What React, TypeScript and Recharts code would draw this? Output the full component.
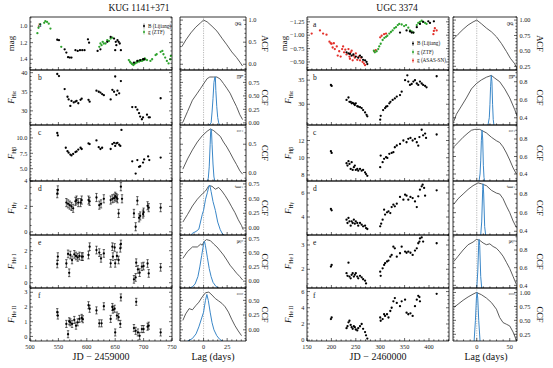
import React from 'react';
import { ComposedChart, Scatter, Line, XAxis, YAxis, ReferenceLine, ErrorBar } from 'recharts';

const FONT = '"Liberation Serif", "DejaVu Serif", serif';
type P = [number, number];

// ---------------- KUG 1141+371 (JD - 2459000) ----------------
const kugLijiangB: P[] = [[548,1.165],[551,1.17],[561,1.28],[564,1.32],[567,1.375],[570,1.38],[573,1.38],[580,1.29],[584,1.30],[588,1.29],[592,1.29],[596,1.29],[602,1.16],[604,1.20],[619,1.30],[624,1.28],[636,1.19],[642,1.13],[648,1.15],[650,1.29],[651,1.19],[652,1.23],[654,1.17],[656,1.19],[658,1.21],[660,1.29],[683,1.44],[689,1.42],[694,1.41],[699,1.40],[701,1.40]];
const kugZtfG: P[] = [[513,1.085],[515,1.02],[518,0.98],[525,0.96],[527,0.94],[530,0.95],[533,0.97],[536,1.03],[555,1.25],[622,1.25],[624,1.21],[626,1.23],[628,1.19],[630,1.21],[633,1.21],[636,1.17],[639,1.18],[642,1.15],[645,1.14],[674,1.41],[676,1.43],[677,1.44],[679,1.45],[680,1.46],[682,1.47],[683,1.46],[685,1.45],[686,1.44],[688,1.44],[689,1.43],[691,1.42],[692,1.43],[694,1.42],[696,1.41],[697,1.42],[699,1.41],[700,1.41],[702,1.39],[703,1.40],[706,1.41],[712,1.42],[715,1.40],[721,1.35],[723,1.34],[730,1.31],[733,1.30],[735,1.34],[738,1.38],[741,1.42],[744,1.45],[747,1.40],[748,1.36]];
const kugHalpha: P[] = [[548,39.65],[551,39.1],[561,35.7],[566,33.7],[568,33.0],[571,31.3],[573,32.6],[577,32.2],[580,32.4],[582,32.6],[585,32.0],[589,32.9],[591,33.2],[603,32.9],[605,32.4],[617,35.3],[621,35.0],[624,34.8],[627,34.4],[630,34.1],[642,33.0],[645,35.5],[648,35.0],[650,39.0],[652,34.2],[654,35.3],[657,34.6],[660,37.8],[680,31.0],[686,31.0],[689,30.3],[692,29.4],[694,28.5],[697,27.8],[699,28.3],[706,29.0],[709,28.3],[711,28.3],[730,33.3]];
const kugHbeta: P[] = [[548,10.8],[549,10.4],[563,8.4],[566,7.85],[568,7.6],[571,7.3],[573,7.15],[576,7.4],[580,7.7],[582,7.8],[585,8.1],[589,8.4],[591,8.2],[603,9.1],[605,9.0],[617,9.6],[621,8.5],[624,8.2],[627,8.4],[642,8.2],[645,9.0],[648,9.2],[650,8.7],[652,9.1],[654,9.2],[657,8.9],[659,8.7],[661,11.3],[680,6.2],[686,4.2],[689,6.4],[692,5.3],[694,5.4],[699,6.0],[701,6.5],[708,7.0],[710,6.4],[730,6.8]];
const kugHgamma: P[] = [[548,3.0],[549,3.3],[564,2.3],[567,2.2],[570,2.1],[573,2.0],[576,1.85],[580,2.4],[582,2.5],[585,2.3],[589,2.3],[591,2.5],[603,2.5],[605,2.4],[617,2.7],[622,2.1],[625,2.2],[630,2.6],[642,2.5],[645,2.6],[648,2.65],[650,2.8],[652,2.7],[654,2.6],[656,1.45],[660,3.55],[662,2.6],[683,1.45],[686,0.4],[689,2.45],[692,1.1],[694,1.25],[699,1.4],[700,1.55],[707,2.05],[709,1.9],[730,1.9]];
const kugHeI: P[] = [[548,1.17],[549,1.63],[564,1.2],[567,1.8],[569,0.62],[571,1.73],[574,1.42],[578,1.77],[581,1.67],[584,1.58],[587,1.67],[591,1.63],[593,1.63],[603,1.73],[605,2.25],[617,2.04],[622,1.88],[625,1.52],[630,1.83],[642,1.21],[645,2.25],[646,1.63],[649,2.2],[650,1.21],[653,1.67],[656,1.42],[659,2.15],[660,2.42],[683,0.21],[686,0.33],[687,1.25],[690,0.83],[693,0.63],[697,1.0],[700,1.04],[707,1.2],[709,0.58],[730,0.96]];
const kugHeII: P[] = [[548,1.65],[549,1.42],[564,0.85],[567,0.15],[569,1.03],[571,0.96],[574,0.85],[578,1.12],[581,0.73],[584,0.96],[587,1.19],[591,1.26],[593,1.17],[603,2.12],[605,1.88],[617,1.77],[622,0.89],[626,0.89],[630,2.05],[642,1.19],[645,2.0],[646,1.82],[649,1.88],[650,0.27],[653,1.42],[656,1.31],[659,0.85],[660,2.65],[683,0.57],[686,0.38],[687,2.35],[690,0.27],[693,0.04],[697,0.5],[700,0.5],[707,0.66],[709,0.73],[730,0.27]];
const kugErrHgamma = 0.32;
const kugErrHeI = 0.24;
const kugErrHeII = 0.24;

// lag (days) vs ACF / CCF ; CCCD (blue) drawn from panel floor
const kugAcf: P[] = [[-23,0.40],[-18.8,0.55],[-13.5,0.71],[-8.3,0.84],[-3.1,0.94],[0,1.0],[3.8,0.96],[9,0.86],[14.2,0.75],[19.5,0.59],[24.7,0.44],[29.9,0.28],[35.1,0.15],[38.5,0.05],[41.3,-0.04]];
const kugCcfHa: P[] = [[-22,0.01],[-17,0.21],[-11.8,0.42],[-6.6,0.55],[-3.1,0.64],[0.3,0.73],[3.8,0.82],[6.6,0.85],[10.8,0.85],[14.2,0.85],[17.7,0.81],[21.1,0.73],[24.7,0.64],[28.1,0.55],[31.6,0.42],[35,0.30],[38.5,0.15],[41.4,0.06]];
const kugCccdHa: P[] = [[6,-0.04],[8,0.0],[9,0.2],[10,0.45],[11,0.75],[12,0.85],[12.5,0.85],[13,0.6],[14,0.3],[15,0.1],[16,0.0],[17,-0.04]];
const kugCcfHb: P[] = [[-22,0.06],[-17,0.24],[-11.8,0.40],[-6.6,0.54],[-1.4,0.65],[3.8,0.73],[7.3,0.77],[10.8,0.74],[14.2,0.69],[17.7,0.64],[21.1,0.54],[24.7,0.45],[28.1,0.35],[31.6,0.24],[35,0.14],[38.5,0.03],[41.4,-0.03]];
const kugCccdHb: P[] = [[4,-0.15],[5,-0.1],[6,0.1],[7,0.5],[7.5,0.72],[8,0.77],[8.5,0.7],[9,0.5],[10,0.15],[11,-0.08],[12,-0.15]];
const kugCcfHg: P[] = [[-22,0.10],[-17,0.23],[-11.8,0.375],[-6.6,0.49],[-1.4,0.58],[2.1,0.63],[5.6,0.72],[9,0.71],[12.5,0.66],[16,0.69],[19.4,0.63],[22.9,0.55],[26.4,0.46],[29.8,0.36],[33.3,0.26],[36.8,0.14],[40.3,0.04],[42,-0.03]];
const kugCccdHg: P[] = [[-13,-0.12],[-11.8,-0.09],[-8,-0.06],[-5,-0.02],[-1.4,0.23],[0,0.3],[2.1,0.49],[4,0.6],[5.5,0.7],[6.6,0.73],[8,0.62],[10,0.45],[12.5,0.3],[15,0.1],[17.7,-0.03],[20,-0.1],[22,-0.12]];
const kugCcfHeI: P[] = [[-22,0.40],[-17,0.52],[-11.8,0.60],[-6.6,0.60],[-3.1,0.65],[-1.4,0.63],[0.3,0.69],[3.1,0.73],[7.3,0.71],[10.8,0.65],[14.2,0.60],[17.7,0.53],[21.1,0.46],[24.7,0.37],[28.1,0.28],[31.6,0.21],[35,0.14],[38.5,0.08],[41.4,0.02]];
const kugCccdHeI: P[] = [[-15,-0.12],[-12,-0.1],[-9,-0.05],[-6,0.08],[-4,0.25],[-2,0.45],[0,0.65],[1,0.7],[2,0.62],[4,0.42],[6,0.22],[8,0.08],[10,-0.02],[13,-0.09],[16,-0.12]];
const kugCcfHeII: P[] = [[-22,0.16],[-19,0.27],[-15.3,0.36],[-11.8,0.34],[-8.3,0.41],[-4.9,0.47],[-1.4,0.56],[2.1,0.63],[5.6,0.64],[9,0.59],[12.5,0.53],[16,0.49],[19.4,0.45],[22.9,0.39],[26.4,0.30],[29.8,0.18],[33.3,0.07],[36.8,-0.02],[40.3,-0.10]];
const kugCccdHeII: P[] = [[-17,-0.19],[-12,-0.15],[-8,-0.07],[-5,0.05],[-2,0.2],[0,0.3],[2,0.5],[3.5,0.6],[5,0.5],[7,0.3],[9,0.12],[11,0.0],[14,-0.1],[17,-0.16],[20,-0.19]];

// ---------------- UGC 3374 (JD - 2460000) ----------------
const ugcLijiangB: P[] = [[231,-0.68],[235,-0.66],[238,-0.65],[241.5,-0.62],[245,-0.64],[250,-0.60],[255,-0.58],[258.6,-0.62],[262,-0.59],[265,-0.54],[269,-0.53],[272,-0.50],[273.6,-0.46],[340.6,-1.05],[354,-1.09],[361,-1.07],[364.5,-1.05],[368,-1.05],[375,-1.15],[381.5,-1.21],[388,-1.25],[398.6,-1.26],[402,-1.23],[410,-1.26]];
const ugcZtfG: P[] = [[287,-0.71],[289,-0.68],[292.7,-0.70],[296,-0.74],[298,-0.79],[301,-0.84],[305,-0.91],[308.5,-0.95],[312,-0.97],[314.6,-0.99],[318.7,-1.03],[322,-1.06],[325.5,-1.09],[329,-1.13],[332.4,-1.15],[336,-1.19],[339,-1.21],[344,-1.20],[349,-1.17],[353,-1.19],[357.6,-1.14],[361,-1.09],[364.5,-1.07],[368,-1.05],[375,-1.19],[378,-1.23],[381.5,-1.25],[385,-1.27],[388,-1.25],[392,-1.23],[395,-1.21]];
const ugcAsassnG: P[] = [[159.6,-1.03],[176.6,-1.09],[183,-1.03],[190,-1.01],[196,-0.88],[198.5,-0.85],[200.5,-0.84],[202.6,-0.77],[205,-0.85],[207,-0.74],[211,-0.79],[213,-0.62],[216,-0.70],[219,-0.60],[222,-0.74],[224,-0.79],[226,-0.68],[228.5,-0.73],[231,-0.64],[235,-0.74],[237,-0.60],[238,-0.56],[239.5,-0.68],[241.5,-0.71],[243.6,-0.53],[245.6,-0.62],[248,-0.58],[250,-0.66],[253,-0.54],[256,-0.60],[258.6,-0.53],[261,-0.58],[264,-0.50],[266.8,-0.47],[269,-0.44],[288,-0.70],[291,-0.72],[300,-0.96],[303,-0.99],[308,-1.02],[312,-1.03],[409,-1.02],[410,-1.08],[412,-1.13],[415.7,-1.09]];
const ugcHalpha: P[] = [[199,34.0],[200.5,33.8],[231,30.9],[235,31.4],[237,30.5],[239.5,30.5],[241.5,30.2],[243.6,30.3],[246,30.1],[248,29.85],[250,30.2],[253,29.6],[255,29.5],[258.6,29.4],[262,29.2],[265,28.8],[269,28.3],[272,27.8],[273.6,27.5],[300,26.8],[301,27.6],[306,28.8],[310,29.2],[312,29.5],[314.6,29.6],[318.7,30.2],[321,30.5],[325.5,30.9],[330,31.2],[334,31.6],[340.6,31.9],[344,32.6],[351,35.0],[355.6,36.0],[357.6,34.7],[361,34.0],[364.5,34.2],[368,34.7],[371.3,35.0],[375,34.3],[378,34.0],[381.5,34.7],[385,34.3],[388,34.0],[392,33.8],[395,33.5],[415.7,35.8]];
const ugcHbeta: P[] = [[199,10.76],[200.5,10.56],[231,9.36],[233,9.09],[235,9.6],[237,9.28],[239.5,8.7],[241.5,9.48],[243.6,8.59],[246,8.9],[248,9.09],[250,8.59],[253,8.7],[255,8.5],[258.6,8.7],[262,8.5],[265,8.59],[269,8.3],[271,8.1],[273.6,7.9],[300,8.9],[301,10.25],[305,9.48],[308,9.87],[312,10.06],[314.6,9.98],[318.7,10.45],[323.5,10.56],[327,10.64],[330,11.22],[334,11.42],[340.6,11.6],[347.5,12.0],[354,11.8],[357.6,12.2],[362,12.3],[366.5,12.0],[371.3,12.2],[375,11.8],[378,11.4],[380.4,12.4],[385,13.25],[388,12.6],[392,12.8],[394,12.3],[415.7,12.7]];
const ugcHgamma: P[] = [[199,4.67],[200.5,4.56],[231,3.78],[233,3.5],[235,3.92],[237,3.64],[239.5,3.28],[241.5,3.64],[243.6,3.5],[246,3.78],[248,3.44],[250,3.64],[253,3.5],[255,3.28],[258.6,3.5],[262,3.36],[265,3.22],[269,3.28],[271,3.08],[273.6,3.0],[300,3.22],[302,3.44],[305,3.78],[308,4.61],[310,4.2],[314,4.39],[317,4.47],[320.7,4.33],[323.5,4.83],[327,5.03],[330,4.89],[334,5.11],[340.6,5.67],[347.5,5.44],[351,5.86],[354,5.78],[357.6,5.44],[362,5.67],[366.5,5.58],[371.3,5.3],[375,4.83],[378,5.72],[381.5,6.28],[385,6.56],[387,6.69],[390,6.42],[392,5.78],[415.7,6.22]];
const ugcHeI: P[] = [[199,2.11],[200.5,2.18],[231,1.84],[233,1.73],[235,2.27],[237,1.70],[239.5,1.63],[241.5,1.77],[243.6,1.84],[246,1.70],[248,1.77],[250,1.84],[253,1.70],[255,1.63],[258.6,1.73],[262,1.67],[265,1.59],[269,1.53],[271,1.42],[300,1.90],[301,1.73],[305,2.04],[308,2.18],[310,2.25],[314,2.32],[317,2.36],[320.7,2.52],[323.5,2.59],[327,2.93],[330,2.86],[334,2.52],[340.6,2.66],[344,2.93],[351,2.73],[354,2.68],[357.6,2.73],[362,2.68],[366.5,2.59],[371.3,2.77],[375,2.86],[378,3.07],[380.4,3.14],[381.5,3.27],[385,3.31],[388,3.14],[415.7,3.07]];
const ugcHeII: P[] = [[199,2.6],[200.5,2.8],[231,1.48],[233,1.72],[235,2.2],[237,2.4],[239.5,1.88],[241.5,1.6],[243.6,1.4],[246,1.72],[248,1.6],[250,1.32],[253,1.2],[255,1.48],[258.6,1.72],[262,2.0],[265,1.4],[269,1.0],[271,0.6],[273.6,0.2],[300,2.8],[301,2.4],[305,2.6],[308,3.2],[310,3.0],[314,3.2],[317,2.8],[320.7,3.6],[323.5,4.0],[327,4.8],[330,5.2],[334,4.6],[340.6,4.2],[344,4.8],[351,5.0],[354,3.4],[357.6,3.2],[362,3.32],[366.5,3.0],[371.3,4.2],[375,5.0],[378,5.48],[380.4,5.32],[381.5,4.8],[415.7,5.72]];

const ugcAcf: P[] = [[-34.8,0.70],[-28.3,0.77],[-20.7,0.85],[-13.1,0.92],[-5.6,0.97],[0,1.0],[7.1,0.94],[14.6,0.87],[22.2,0.81],[29.8,0.73],[37.4,0.62],[45,0.49],[51,0.38],[57.6,0.29],[61,0.21]];
const ugcCcfHa: P[] = [[-34.8,0.36],[-30.8,0.44],[-23.2,0.53],[-15.7,0.62],[-8.1,0.72],[-0.5,0.78],[7.1,0.82],[14.6,0.85],[22.2,0.87],[27.3,0.84],[34.8,0.80],[42.4,0.72],[50,0.62],[57.6,0.49],[61,0.42]];
const ugcCccdHa: P[] = [[17,0.32],[19,0.4],[20,0.55],[21,0.75],[22,0.87],[23,0.8],[24,0.55],[25,0.38],[26,0.32]];
const ugcCcfHb: P[] = [[-34.8,0.71],[-28.3,0.76],[-20.7,0.82],[-13.1,0.87],[-8.1,0.90],[-3,0.91],[4.5,0.91],[9.6,0.89],[14.6,0.87],[22.2,0.82],[29.8,0.78],[34.8,0.76],[39.9,0.71],[45,0.64],[50,0.56],[55.1,0.47],[60.1,0.40]];
const ugcCccdHb: P[] = [[3.5,0.32],[5,0.4],[6,0.55],[7,0.78],[8,0.9],[9,0.8],[10,0.5],[11,0.36],[12,0.32]];
const ugcCcfHg: P[] = [[-34.8,0.69],[-28.3,0.75],[-20.7,0.80],[-13.1,0.85],[-5.6,0.89],[2,0.92],[7.1,0.91],[14.6,0.89],[22.2,0.84],[29.8,0.81],[34.8,0.80],[39.9,0.75],[45,0.67],[50,0.60],[55.1,0.51],[60.1,0.44]];
const ugcCccdHg: P[] = [[6,0.36],[7.5,0.5],[9,0.85],[9.6,0.91],[10.5,0.8],[12,0.45],[13.5,0.36]];
const ugcCcfHeI: P[] = [[-34.8,0.67],[-28.3,0.73],[-20.7,0.80],[-13.1,0.86],[-5.6,0.89],[-0.5,0.92],[4.5,0.91],[9.6,0.88],[14.6,0.86],[19.7,0.87],[24.7,0.84],[29.8,0.82],[34.8,0.78],[39.9,0.73],[45,0.66],[50,0.59],[55.1,0.50],[60.1,0.41]];
const ugcCccdHeI: P[] = [[0,0.37],[1.5,0.55],[3,0.88],[3.5,0.92],[4.5,0.85],[6,0.5],[7.5,0.37]];
const ugcCcfHeII: P[] = [[-34.8,0.73],[-28.3,0.79],[-20.7,0.86],[-13.1,0.92],[-5.6,0.97],[-0.5,1.0],[7.1,0.96],[14.6,0.90],[22.2,0.82],[29.8,0.70],[34.8,0.55],[39.9,0.46],[45,0.43],[50,0.40],[55.1,0.29],[60.1,0.14]];
const ugcCccdHeII: P[] = [[-4,0.13],[-2,0.5],[-0.5,0.9],[0.5,1.0],[1.5,0.9],[3,0.5],[5,0.13]];

// ---------------- layout ----------------
const ROWS = [17, 70, 125, 181, 235, 288, 341];
const LX = 30, LW = 142;   // KUG light curves
const AX = 180, AW = 66;   // KUG CCF
const RX = 307, RW = 142;  // UGC light curves
const BX = 453, BW = 64;   // UGC CCF

const BLACK = '#000000';
const GREEN = '#2ea32e';
const RED = '#e3302a';
const BLUE = '#3a87c8';
const GRAYLINE = '#333333';

const toXY = (a: P[]) => a.map(([x, y]) => ({ x, y }));
const toXYE = (a: P[], e: number) => a.map(([x, y]) => ({ x, y, e }));

const near = (a: number, b: number) => Math.abs(a - b) < 1e-6;
function minorTicks(d: [number, number], step: number, majors: number[]) {
  const lo = Math.min(d[0], d[1]), hi = Math.max(d[0], d[1]);
  const out: number[] = [];
  const start = Math.ceil(lo / step - 1e-9);
  for (let k = start; k * step <= hi + 1e-9; k++) {
    const v = +(k * step).toFixed(6);
    if (!majors.some((m) => near(m, v))) out.push(v);
  }
  return out;
}

const mfmt = (s: string) => s.replace('-', '\u2212');
const f0 = (v: number) => mfmt(String(v));
const f1 = (v: number) => mfmt(v.toFixed(1));
const f2 = (v: number) => mfmt(v.toFixed(2));

function makeTick(side: string, majors: number[], labels: boolean, fmt: (v: number) => string) {
  return (props: any) => {
    const { x, y, payload } = props;
    const v = payload.value;
    const maj = majors.some((m) => near(m, v));
    const L = maj ? 3 : 1.6;
    let ln: any;
    let tx: any = null;
    const ts = { fontSize: 6.3, fontFamily: FONT, fill: '#222' } as any;
    if (side === 'bottom') {
      ln = <line x1={x} x2={x} y1={y} y2={y - L} stroke="#000" strokeWidth={0.6} />;
      if (maj && labels) tx = <text x={x} y={y + 8} textAnchor="middle" style={ts}>{fmt(v)}</text>;
    } else if (side === 'top') {
      ln = <line x1={x} x2={x} y1={y} y2={y + L} stroke="#000" strokeWidth={0.6} />;
    } else if (side === 'left') {
      ln = <line x1={x} x2={x + L} y1={y} y2={y} stroke="#000" strokeWidth={0.6} />;
      if (maj && labels) tx = <text x={x - 2.5} y={y + 2.2} textAnchor="end" style={ts}>{fmt(v)}</text>;
    } else {
      ln = <line x1={x} x2={x - L} y1={y} y2={y} stroke="#000" strokeWidth={0.6} />;
      if (maj && labels) tx = <text x={x + 2.5} y={y + 2.2} textAnchor="start" style={ts}>{fmt(v)}</text>;
    }
    return <g>{ln}{tx}</g>;
  };
}

type PanelProps = {
  px: number; py: number; pw: number; ph: number;
  xd: [number, number]; yd: [number, number];
  xMaj: number[]; xStep: number; showX: boolean; xFmt: (v: number) => string;
  yMaj: number[]; yStep: number; yFmt: (v: number) => string; ySide: 'left' | 'right';
  reversed?: boolean; children?: React.ReactNode;
};

function Panel(p: PanelProps) {
  const PL = 40, PR = 40, PT = 6, PB = 14;
  const width = p.pw + PL + PR, height = p.ph + PT + PB;
  const xTicks = [...p.xMaj, ...minorTicks(p.xd, p.xStep, p.xMaj)].sort((a, b) => a - b);
  const yTicks = [...p.yMaj, ...minorTicks(p.yd, p.yStep, p.yMaj)].sort((a, b) => a - b);
  const al = { stroke: '#000', strokeWidth: 0.8 };
  return (
    <div style={{ position: 'absolute', left: p.px - PL, top: p.py - PT }}>
      <ComposedChart width={width} height={height} margin={{ top: PT - 1, right: PR - 1, bottom: PB - 1, left: PL - 1 }}>
        <XAxis xAxisId="b" orientation="bottom" type="number" dataKey="x" domain={p.xd} allowDataOverflow ticks={xTicks} interval={0} height={1} tickSize={0} tickMargin={0} tickLine={false} axisLine={al} tick={makeTick('bottom', p.xMaj, p.showX, p.xFmt)} />
        <XAxis xAxisId="t" orientation="top" type="number" domain={p.xd} allowDataOverflow ticks={xTicks} interval={0} height={1} tickSize={0} tickMargin={0} tickLine={false} axisLine={al} tick={makeTick('top', p.xMaj, false, p.xFmt)} />
        <YAxis yAxisId="l" orientation="left" type="number" dataKey="y" domain={p.yd} allowDataOverflow reversed={p.reversed} ticks={yTicks} interval={0} width={1} tickSize={0} tickMargin={0} tickLine={false} axisLine={al} tick={makeTick('left', p.yMaj, p.ySide === 'left', p.yFmt)} />
        <YAxis yAxisId="r" orientation="right" type="number" domain={p.yd} allowDataOverflow reversed={p.reversed} ticks={yTicks} interval={0} width={1} tickSize={0} tickMargin={0} tickLine={false} axisLine={al} tick={makeTick('right', p.yMaj, p.ySide === 'right', p.yFmt)} />
        {p.children}
      </ComposedChart>
    </div>
  );
}

const dotShape = (color: string, r = 1.15) => (s: any) => <circle cx={s.cx} cy={s.cy} r={r} fill={color} />;

function pts(data: P[], color: string, key: string) {
  return <Scatter key={key} xAxisId="b" yAxisId="l" data={toXY(data)} shape={dotShape(color)} isAnimationActive={false} />;
}
function ptsErr(data: P[], err: number, color: string, key: string) {
  return (
    <Scatter key={key} xAxisId="b" yAxisId="l" data={toXYE(data, err)} shape={dotShape(color)} isAnimationActive={false}>
      <ErrorBar dataKey="e" direction="y" width={1.2} stroke={color} strokeWidth={0.6} />
    </Scatter>
  );
}
function curve(data: P[], color: string, key: string, w = 0.8) {
  return <Line key={key} xAxisId="b" yAxisId="l" data={toXY(data)} dataKey="y" type="linear" dot={false} stroke={color} strokeWidth={w} isAnimationActive={false} />;
}
const zeroLine = <ReferenceLine key="z" xAxisId="b" yAxisId="l" x={0} stroke="#9a9a9a" strokeDasharray="1.2 1.2" strokeWidth={0.7} />;

const lcX = { xd: [500, 750] as [number, number], xMaj: [500, 550, 600, 650, 700, 750], xStep: 10, xFmt: f0 };
const lcXr = { xd: [150, 441] as [number, number], xMaj: [150, 200, 250, 300, 350, 400], xStep: 10, xFmt: f0 };
const ccX = { xd: [-25, 45] as [number, number], xMaj: [0, 25], xStep: 5, xFmt: f0 };
const ccXr = { xd: [-36, 61] as [number, number], xMaj: [0, 50], xStep: 10, xFmt: f0 };

const row = (i: number) => ({ py: ROWS[i], ph: ROWS[i + 1] - ROWS[i] });

function YLab({ x, y, main, sub, italic = true }: { x: number; y: number; main: string; sub?: string; italic?: boolean }) {
  return (
    <text transform={`translate(${x},${y}) rotate(-90)`} textAnchor="middle" style={{ fontFamily: FONT, fontSize: 9, fill: '#111' }}>
      <tspan fontStyle={italic ? 'italic' : 'normal'}>{main}</tspan>
      {sub ? <tspan fontSize={5.6} dy={2}>{sub}</tspan> : null}
    </text>
  );
}

export default function App() {
  const lcLabels = [
    { main: 'mag', sub: '', it: false },
    { main: 'F', sub: 'H\u03b1', it: true },
    { main: 'F', sub: 'H\u03b2', it: true },
    { main: 'F', sub: 'H\u03b3', it: true },
    { main: 'F', sub: 'He I', it: true },
    { main: 'F', sub: 'He II', it: true },
  ];
  const lettersL = ['a', 'b', 'c', 'd', 'e', 'f'];
  const lettersR = ['g', 'h', 'i', 'j', 'k', 'l'];
  const txt = { fontFamily: FONT, fill: '#111' } as any;
  return (
    <div style={{ position: 'absolute', left: 0, top: 0, width: 553, height: 368, background: '#fff', overflow: 'hidden' }}>
      {/* ---------- KUG 1141+371 light curves ---------- */}
      <Panel px={LX} pw={LW} {...row(0)} {...lcX} showX={false} yd={[0.89, 1.53]} reversed yMaj={[1.0, 1.2, 1.4]} yStep={0.05} yFmt={f1} ySide="left">
        {pts(kugZtfG, GREEN, 'g')}
        {pts(kugLijiangB, BLACK, 'b')}
      </Panel>
      <Panel px={LX} pw={LW} {...row(1)} {...lcX} showX={false} yd={[26.3, 40.7]} yMaj={[30, 35, 40]} yStep={1} yFmt={f0} ySide="left">
        {pts(kugHalpha, BLACK, 'p')}
      </Panel>
      <Panel px={LX} pw={LW} {...row(2)} {...lcX} showX={false} yd={[3.0, 12.1]} yMaj={[5, 7.5, 10]} yStep={0.5} yFmt={f1} ySide="left">
        {pts(kugHbeta, BLACK, 'p')}
      </Panel>
      <Panel px={LX} pw={LW} {...row(3)} {...lcX} showX={false} yd={[-0.25, 4.0]} yMaj={[0, 2, 4]} yStep={0.5} yFmt={f0} ySide="left">
        {ptsErr(kugHgamma, kugErrHgamma, BLACK, 'p')}
      </Panel>
      <Panel px={LX} pw={LW} {...row(4)} {...lcX} showX={false} yd={[-0.33, 2.98]} yMaj={[0, 1, 2]} yStep={0.25} yFmt={f0} ySide="left">
        {ptsErr(kugHeI, kugErrHeI, BLACK, 'p')}
      </Panel>
      <Panel px={LX} pw={LW} {...row(5)} {...lcX} showX={true} yd={[-0.31, 3.29]} yMaj={[0, 1, 2, 3]} yStep={0.25} yFmt={f0} ySide="left">
        {ptsErr(kugHeII, kugErrHeII, BLACK, 'p')}
      </Panel>

      {/* ---------- KUG CCF ---------- */}
      <Panel px={AX} pw={AW} {...row(0)} {...ccX} showX={false} yd={[-0.13, 1.07]} yMaj={[0, 0.5, 1.0]} yStep={0.1} yFmt={f1} ySide="right">
        {zeroLine}{curve(kugAcf, GRAYLINE, 'a')}
      </Panel>
      <Panel px={AX} pw={AW} {...row(1)} {...ccX} showX={false} yd={[-0.04, 0.98]} yMaj={[0, 0.25, 0.5, 0.75]} yStep={0.05} yFmt={f2} ySide="right">
        {zeroLine}{curve(kugCcfHa, GRAYLINE, 'a')}{curve(kugCccdHa, BLUE, 'c', 1)}
      </Panel>
      <Panel px={AX} pw={AW} {...row(2)} {...ccX} showX={false} yd={[-0.15, 0.84]} yMaj={[0, 0.5]} yStep={0.1} yFmt={f1} ySide="right">
        {zeroLine}{curve(kugCcfHb, GRAYLINE, 'a')}{curve(kugCccdHb, BLUE, 'c', 1)}
      </Panel>
      <Panel px={AX} pw={AW} {...row(3)} {...ccX} showX={false} yd={[-0.12, 0.80]} yMaj={[0, 0.25, 0.5, 0.75]} yStep={0.05} yFmt={f2} ySide="right">
        {zeroLine}{curve(kugCcfHg, GRAYLINE, 'a')}{curve(kugCccdHg, BLUE, 'c', 1)}
      </Panel>
      <Panel px={AX} pw={AW} {...row(4)} {...ccX} showX={false} yd={[-0.12, 0.81]} yMaj={[0, 0.25, 0.5, 0.75]} yStep={0.05} yFmt={f2} ySide="right">
        {zeroLine}{curve(kugCcfHeI, GRAYLINE, 'a')}{curve(kugCccdHeI, BLUE, 'c', 1)}
      </Panel>
      <Panel px={AX} pw={AW} {...row(5)} {...ccX} showX={true} yd={[-0.19, 0.71]} yMaj={[0, 0.25, 0.5]} yStep={0.05} yFmt={f2} ySide="right">
        {zeroLine}{curve(kugCcfHeII, GRAYLINE, 'a')}{curve(kugCccdHeII, BLUE, 'c', 1)}
      </Panel>

      {/* ---------- UGC 3374 light curves ---------- */}
      <Panel px={RX} pw={RW} {...row(0)} {...lcXr} showX={false} yd={[-1.34, -0.35]} reversed yMaj={[-1.25, -1.0, -0.75, -0.5]} yStep={0.05} yFmt={f2} ySide="left">
        {pts(ugcAsassnG, RED, 'r')}
        {pts(ugcZtfG, GREEN, 'g')}
        {pts(ugcLijiangB, BLACK, 'b')}
      </Panel>
      <Panel px={RX} pw={RW} {...row(1)} {...lcXr} showX={false} yd={[25.7, 37.1]} yMaj={[30, 35]} yStep={1} yFmt={f0} ySide="left">
        {pts(ugcHalpha, BLACK, 'p')}
      </Panel>
      <Panel px={RX} pw={RW} {...row(2)} {...lcXr} showX={false} yd={[7.3, 13.8]} yMaj={[8, 10, 12]} yStep={0.5} yFmt={f0} ySide="left">
        {pts(ugcHbeta, BLACK, 'p')}
      </Panel>
      <Panel px={RX} pw={RW} {...row(3)} {...lcXr} showX={false} yd={[2.5, 7.0]} yMaj={[4, 6]} yStep={0.5} yFmt={f0} ySide="left">
        {pts(ugcHgamma, BLACK, 'p')}
      </Panel>
      <Panel px={RX} pw={RW} {...row(4)} {...lcXr} showX={false} yd={[1.23, 3.41]} yMaj={[2, 3]} yStep={0.2} yFmt={f0} ySide="left">
        {pts(ugcHeI, BLACK, 'p')}
      </Panel>
      <Panel px={RX} pw={RW} {...row(5)} {...lcXr} showX={true} yd={[-0.1, 6.44]} yMaj={[0, 2, 4, 6]} yStep={0.5} yFmt={f0} ySide="left">
        {pts(ugcHeII, BLACK, 'p')}
      </Panel>

      {/* ---------- UGC CCF ---------- */}
      <Panel px={BX} pw={BW} {...row(0)} {...ccXr} showX={false} yd={[0.19, 1.05]} yMaj={[0.25, 0.5, 0.75, 1.0]} yStep={0.05} yFmt={f2} ySide="right">
        {zeroLine}{curve(ugcAcf, GRAYLINE, 'a')}
      </Panel>
      <Panel px={BX} pw={BW} {...row(1)} {...ccXr} showX={false} yd={[0.32, 0.93]} yMaj={[0.4, 0.6, 0.8]} yStep={0.05} yFmt={f1} ySide="right">
        {zeroLine}{curve(ugcCcfHa, GRAYLINE, 'a')}{curve(ugcCccdHa, BLUE, 'c', 1)}
      </Panel>
      <Panel px={BX} pw={BW} {...row(2)} {...ccXr} showX={false} yd={[0.32, 0.96]} yMaj={[0.4, 0.6, 0.8]} yStep={0.05} yFmt={f1} ySide="right">
        {zeroLine}{curve(ugcCcfHb, GRAYLINE, 'a')}{curve(ugcCccdHb, BLUE, 'c', 1)}
      </Panel>
      <Panel px={BX} pw={BW} {...row(3)} {...ccXr} showX={false} yd={[0.36, 0.94]} yMaj={[0.4, 0.6, 0.8]} yStep={0.05} yFmt={f1} ySide="right">
        {zeroLine}{curve(ugcCcfHg, GRAYLINE, 'a')}{curve(ugcCccdHg, BLUE, 'c', 1)}
      </Panel>
      <Panel px={BX} pw={BW} {...row(4)} {...ccXr} showX={false} yd={[0.37, 0.97]} yMaj={[0.4, 0.6, 0.8]} yStep={0.05} yFmt={f1} ySide="right">
        {zeroLine}{curve(ugcCcfHeI, GRAYLINE, 'a')}{curve(ugcCccdHeI, BLUE, 'c', 1)}
      </Panel>
      <Panel px={BX} pw={BW} {...row(5)} {...ccXr} showX={true} yd={[0.13, 1.08]} yMaj={[0.25, 0.5, 0.75, 1.0]} yStep={0.05} yFmt={f2} ySide="right">
        {zeroLine}{curve(ugcCcfHeII, GRAYLINE, 'a')}{curve(ugcCccdHeII, BLUE, 'c', 1)}
      </Panel>

      {/* ---------- text overlay ---------- */}
      <svg width={553} height={368} style={{ position: 'absolute', left: 0, top: 0, pointerEvents: 'none' }}>
        <text x={139} y={11} textAnchor="middle" style={{ ...txt, fontSize: 9.5 }}>KUG 1141+371</text>
        <text x={397} y={11} textAnchor="middle" style={{ ...txt, fontSize: 9.5 }}>UGC 3374</text>

        <text x={101} y={360} textAnchor="middle" style={{ ...txt, fontSize: 10 }}>JD {'\u2212'} 2459000</text>
        <text x={213} y={360} textAnchor="middle" style={{ ...txt, fontSize: 10 }}>Lag (days)</text>
        <text x={378} y={360} textAnchor="middle" style={{ ...txt, fontSize: 10 }}>JD {'\u2212'} 2460000</text>
        <text x={486} y={360} textAnchor="middle" style={{ ...txt, fontSize: 10 }}>Lag (days)</text>

        {lcLabels.map((l, i) => {
          const cy = (ROWS[i] + ROWS[i + 1]) / 2;
          return (
            <g key={'yl' + i}>
              <YLab x={14} y={cy} main={l.main} sub={l.sub} italic={l.it} />
              <YLab x={i === 0 ? 287 : 291} y={cy} main={l.main} sub={l.sub} italic={l.it} />
            </g>
          );
        })}
        {lettersR.map((_, i) => {
          const cy = (ROWS[i] + ROWS[i + 1]) / 2;
          const lab = i === 0 ? 'ACF' : 'CCF';
          return (
            <g key={'cl' + i}>
              <text transform={`translate(${AX + AW + 16},${cy}) rotate(90)`} textAnchor="middle" style={{ ...txt, fontSize: 8.5 }}>{lab}</text>
              <text transform={`translate(${BX + BW + 20},${cy}) rotate(90)`} textAnchor="middle" style={{ ...txt, fontSize: 8.5 }}>{lab}</text>
            </g>
          );
        })}
        {lettersL.map((c, i) => (
          <g key={'ll' + i}>
            <text x={LX + 8} y={ROWS[i] + 10} style={{ ...txt, fontSize: 7.5 }}>{c}</text>
            <text x={RX + 6} y={ROWS[i] + 10} style={{ ...txt, fontSize: 7.5 }}>{c}</text>
          </g>
        ))}
        {lettersR.map((c, i) => (
          <g key={'lr' + i}>
            <text transform={`translate(${AX + AW - 9},${ROWS[i] + 5}) rotate(90)`} style={{ ...txt, fontSize: 7.5 }}>{c}</text>
            <text transform={`translate(${BX + BW - 8},${ROWS[i] + 5}) rotate(90)`} style={{ ...txt, fontSize: 7.5 }}>{c}</text>
          </g>
        ))}

        {/* legends */}
        <g style={{ ...txt, fontSize: 5.2 }}>
          <line x1={144} x2={144} y1={23.5} y2={28.5} stroke={BLACK} strokeWidth={0.5} />
          <circle cx={144} cy={26} r={1} fill={BLACK} />
          <text x={148} y={27.8}>B (Lijiang)</text>
          <line x1={144} x2={144} y1={29.5} y2={34.5} stroke={GREEN} strokeWidth={0.5} />
          <circle cx={144} cy={32} r={1} fill={GREEN} />
          <text x={148} y={33.8}>g (ZTF)</text>

          <line x1={413} x2={413} y1={41} y2={46} stroke={BLACK} strokeWidth={0.5} />
          <circle cx={413} cy={43.5} r={1} fill={BLACK} />
          <text x={417} y={45.3}>B (Lijiang)</text>
          <line x1={413} x2={413} y1={49.5} y2={54.5} stroke={GREEN} strokeWidth={0.5} />
          <circle cx={413} cy={52} r={1} fill={GREEN} />
          <text x={417} y={53.8}>g (ZTF)</text>
          <line x1={413} x2={413} y1={58} y2={63} stroke={RED} strokeWidth={0.5} />
          <circle cx={413} cy={60.5} r={1} fill={RED} />
          <text x={417} y={62.3}>g (ASAS-SN)</text>
        </g>
      </svg>
    </div>
  );
}
